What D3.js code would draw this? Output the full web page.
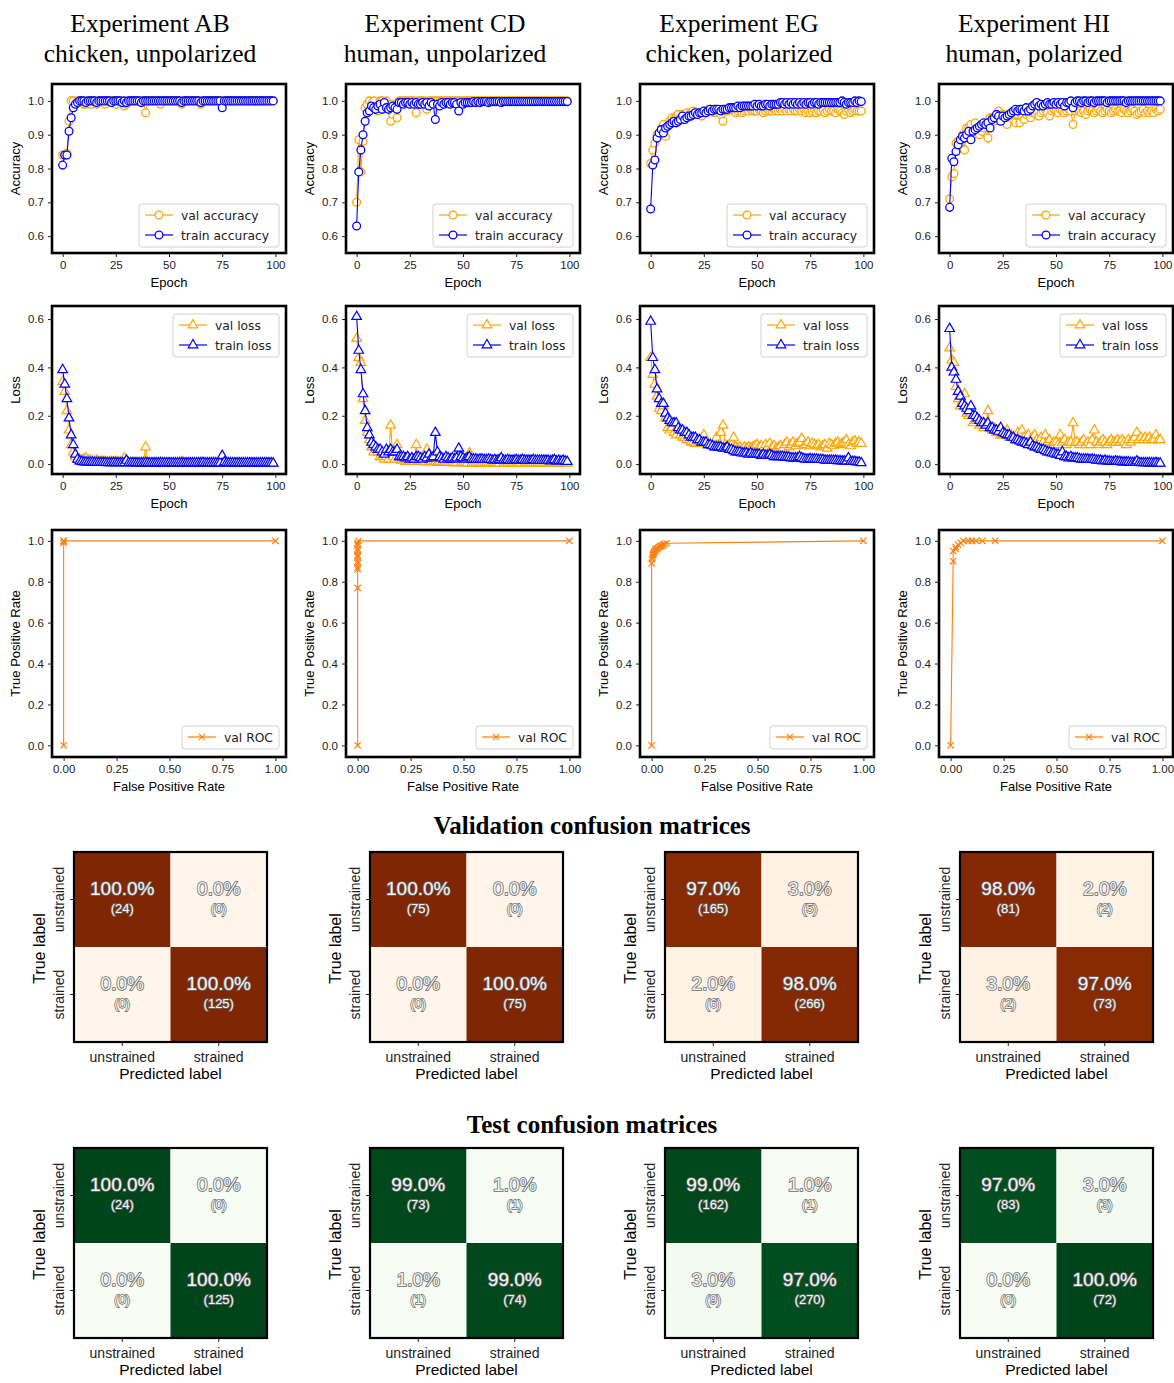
<!DOCTYPE html>
<html>
<head>
<meta charset="utf-8">
<script src="https://cdnjs.cloudflare.com/ajax/libs/d3/7.8.5/d3.min.js"></script>
<style>
  body { margin: 0; background: #fff; }
  svg { display: block; }
</style>
</head>
<body>
<svg id="fig" width="1174" height="1383"></svg>
<script>
// ---------- data ----------
var titles = ["Experiment AB", "Experiment CD", "Experiment EG", "Experiment HI"];
var subtitles = ["chicken, unpolarized", "human, unpolarized", "chicken, polarized", "human, polarized"];

var trainAccAB = [
  0.81,0.84,0.84,0.91,0.95,0.98,0.99,0.995,1,1,
  1,0.995,1,1,1,1,0.995,1,1,1,
  1,1,1,0.995,1,1,1,1,0.995,1,
  0.995,1,1,1,1,1,1,0.995,1,1,
  1,1,1,1,1,1,1,1,1,1,
  1,1,1,1,1,1,0.995,1,1,1,
  1,1,1,1,1,0.995,1,1,1,1,
  1,1,1,1,1,0.98,1,1,1,1,
  1,1,1,1,1,1,1,1,1,1,
  1,1,1,1,1,1,1,1,1,1];
var valAccAB = [
  0.84,0.84,0.845,0.94,1,1,0.99,1,1,1,
  0.99,0.99,1,0.99,1,1,0.99,1,1,1,
  0.99,1,1,1,1,0.99,1,1,1,0.985,
  0.99,1,1,1,1,1,1,1,1,0.965,
  1,1,1,1,1,1,0.99,1,1,1,
  1,1,1,1,1,1,0.99,1,1,1,
  1,1,1,1,1,0.99,1,1,1,1,
  1,1,1,1,1,1,1,1,1,1,
  1,1,1,1,1,1,1,1,1,1,
  1,1,1,1,1,1,1,1,1,1];
var trainLossAB = [
  0.39,0.33,0.27,0.19,0.12,0.08,0.04,0.02,0.012,0.01,
  0.008,0.008,0.007,0.007,0.007,0.006,0.006,0.006,0.006,0.006,
  0.006,0.005,0.005,0.005,0.006,0.005,0.005,0.005,0.005,0.005,
  0.015,0.005,0.005,0.005,0.005,0.004,0.004,0.004,0.004,0.006,
  0.005,0.004,0.004,0.004,0.004,0.004,0.004,0.004,0.004,0.004,
  0.004,0.004,0.004,0.004,0.004,0.004,0.004,0.004,0.004,0.004,
  0.004,0.004,0.004,0.004,0.004,0.004,0.006,0.004,0.004,0.004,
  0.004,0.004,0.004,0.004,0.004,0.035,0.008,0.004,0.004,0.004,
  0.004,0.004,0.004,0.004,0.004,0.004,0.004,0.004,0.004,0.004,
  0.004,0.004,0.004,0.004,0.004,0.004,0.004,0.004,0.004,0.003];
var valLossAB = [
  0.34,0.3,0.22,0.14,0.08,0.05,0.03,0.02,0.02,0.015,
  0.02,0.025,0.015,0.015,0.01,0.01,0.015,0.01,0.01,0.01,
  0.01,0.008,0.008,0.01,0.008,0.01,0.008,0.006,0.008,0.025,
  0.01,0.006,0.005,0.005,0.004,0.004,0.004,0.004,0.004,0.07,
  0.005,0.003,0.003,0.003,0.003,0.003,0.008,0.003,0.002,0.002,
  0.002,0.002,0.002,0.002,0.002,0.002,0.01,0.002,0.002,0.002,
  0.002,0.002,0.002,0.002,0.002,0.006,0.002,0.002,0.002,0.002,
  0.002,0.002,0.002,0.002,0.002,0.01,0.002,0.002,0.002,0.002,
  0.002,0.002,0.002,0.002,0.002,0.002,0.002,0.002,0.002,0.002,
  0.002,0.002,0.002,0.002,0.002,0.002,0.002,0.002,0.002,0.002];

var trainAccCD = [
  0.63,0.79,0.855,0.9,0.94,0.965,0.97,0.985,0.98,0.975,
  0.985,0.99,0.975,0.995,0.98,0.975,0.98,0.985,0.98,0.975,
  0.995,0.995,0.99,0.995,0.995,0.99,0.995,0.99,0.995,0.99,
  0.99,0.995,0.99,0.995,0.985,0.995,0.99,0.945,0.99,0.985,
  0.995,0.99,0.995,0.995,0.99,0.995,0.995,0.99,0.97,0.995,
  0.99,0.995,0.995,0.995,0.995,0.998,0.995,0.998,0.995,0.998,
  0.998,0.998,0.995,0.998,0.998,0.998,0.998,0.998,0.995,0.998,
  0.998,0.998,0.998,0.998,0.998,0.998,0.998,0.998,0.998,0.998,
  0.998,0.998,0.998,0.998,0.998,0.998,0.998,0.998,0.998,0.998,
  0.998,0.998,0.998,0.998,0.998,0.998,0.998,0.998,0.998,0.998];
var valAccCD = [
  0.7,0.885,0.79,0.88,0.98,0.99,1,0.99,1,0.98,
  0.97,1,1,0.99,1,0.99,0.94,0.96,0.99,0.95,
  1,1,1,1,1,1,1,1,0.965,1,
  1,1,1,0.975,1,1,1,1,1,1,
  1,1,1,1,1,1,1,1,1,1,
  1,1,1,1,1,1,1,1,1,1,
  1,1,1,1,1,1,1,1,1,1,
  1,1,1,1,1,1,1,1,1,1,
  1,1,1,1,1,1,1,1,1,1,
  1,1,1,1,1,1,1,1,1,1];
var trainLossCD = [
  0.61,0.47,0.39,0.29,0.22,0.15,0.12,0.09,0.08,0.07,
  0.06,0.06,0.05,0.04,0.06,0.05,0.06,0.05,0.05,0.06,
  0.03,0.03,0.03,0.025,0.03,0.02,0.025,0.02,0.03,0.03,
  0.025,0.02,0.03,0.025,0.04,0.025,0.03,0.13,0.05,0.03,
  0.025,0.02,0.03,0.025,0.02,0.025,0.02,0.025,0.065,0.03,
  0.025,0.02,0.025,0.03,0.02,0.02,0.02,0.018,0.02,0.02,
  0.018,0.018,0.02,0.018,0.015,0.018,0.015,0.018,0.025,0.015,
  0.015,0.018,0.015,0.015,0.015,0.018,0.015,0.015,0.018,0.015,
  0.015,0.015,0.015,0.018,0.015,0.015,0.015,0.015,0.015,0.015,
  0.015,0.012,0.015,0.018,0.012,0.015,0.012,0.015,0.012,0.01];
var valLossCD = [
  0.52,0.44,0.42,0.27,0.18,0.13,0.1,0.07,0.05,0.06,
  0.05,0.03,0.03,0.02,0.03,0.02,0.16,0.03,0.02,0.08,
  0.02,0.015,0.02,0.01,0.015,0.01,0.01,0.01,0.08,0.01,
  0.01,0.01,0.008,0.06,0.01,0.01,0.008,0.01,0.006,0.01,
  0.008,0.006,0.008,0.006,0.005,0.006,0.005,0.005,0.05,0.005,
  0.004,0.005,0.004,0.045,0.004,0.004,0.004,0.004,0.004,0.004,
  0.003,0.003,0.003,0.003,0.003,0.005,0.003,0.003,0.02,0.003,
  0.003,0.003,0.003,0.003,0.003,0.003,0.003,0.003,0.02,0.003,
  0.003,0.003,0.003,0.003,0.003,0.003,0.003,0.003,0.003,0.003,
  0.003,0.003,0.003,0.003,0.003,0.003,0.003,0.003,0.003,0.003];

var trainAccEG = [
  0.68,0.81,0.825,0.89,0.905,0.915,0.905,0.92,0.925,0.93,
  0.935,0.94,0.935,0.94,0.945,0.955,0.945,0.95,0.955,0.955,
  0.96,0.965,0.96,0.965,0.965,0.97,0.965,0.97,0.975,0.97,
  0.975,0.975,0.975,0.97,0.975,0.975,0.975,0.98,0.98,0.98,
  0.98,0.985,0.98,0.985,0.985,0.985,0.985,0.985,0.985,0.99,
  0.985,0.99,0.985,0.985,0.99,0.99,0.985,0.99,0.99,0.99,
  0.99,0.995,0.995,0.99,0.995,0.99,0.995,0.99,0.995,0.99,
  0.995,0.99,0.995,0.99,0.995,0.995,0.99,0.995,0.995,0.99,
  0.995,0.995,0.995,0.995,0.995,0.995,0.995,0.995,0.995,0.995,
  1,0.995,0.99,0.995,0.995,0.995,1,0.995,1,0.998];
var valAccEG = [
  0.815,0.855,0.875,0.9,0.905,0.92,0.93,0.895,0.925,0.94,
  0.95,0.945,0.955,0.96,0.95,0.96,0.955,0.965,0.96,0.965,
  0.97,0.965,0.965,0.96,0.955,0.965,0.97,0.975,0.975,0.975,
  0.965,0.975,0.97,0.96,0.94,0.975,0.97,0.975,0.975,0.97,
  0.965,0.97,0.975,0.965,0.97,0.975,0.97,0.975,0.97,0.97,
  0.97,0.975,0.97,0.965,0.97,0.975,0.97,0.97,0.975,0.97,
  0.97,0.975,0.97,0.975,0.97,0.975,0.97,0.975,0.97,0.97,
  0.975,0.97,0.975,0.965,0.97,0.965,0.97,0.975,0.965,0.97,
  0.97,0.975,0.965,0.97,0.975,0.97,0.97,0.965,0.975,0.97,
  0.965,0.96,0.97,0.975,0.965,0.97,0.975,0.97,0.97,0.97];
var trainLossEG = [
  0.59,0.44,0.39,0.31,0.27,0.25,0.25,0.21,0.19,0.18,
  0.17,0.17,0.17,0.15,0.14,0.14,0.13,0.13,0.12,0.11,
  0.11,0.11,0.1,0.1,0.09,0.09,0.09,0.08,0.08,0.075,
  0.07,0.07,0.07,0.07,0.065,0.065,0.07,0.06,0.06,0.055,
  0.05,0.05,0.05,0.045,0.045,0.045,0.04,0.045,0.04,0.04,
  0.04,0.04,0.035,0.04,0.035,0.035,0.04,0.035,0.03,0.03,
  0.03,0.03,0.03,0.028,0.028,0.028,0.025,0.025,0.025,0.025,
  0.03,0.025,0.022,0.02,0.02,0.022,0.02,0.02,0.02,0.018,
  0.018,0.018,0.015,0.015,0.015,0.015,0.015,0.015,0.013,0.013,
  0.012,0.012,0.012,0.025,0.01,0.01,0.01,0.008,0.008,0.005];
var valLossEG = [
  0.44,0.37,0.33,0.28,0.23,0.22,0.24,0.19,0.15,0.14,
  0.15,0.13,0.12,0.14,0.12,0.11,0.11,0.1,0.1,0.09,
  0.09,0.085,0.085,0.09,0.09,0.12,0.09,0.08,0.08,0.08,
  0.08,0.11,0.08,0.13,0.16,0.08,0.075,0.07,0.08,0.11,
  0.07,0.065,0.07,0.06,0.07,0.065,0.07,0.065,0.07,0.075,
  0.08,0.07,0.075,0.065,0.08,0.07,0.085,0.07,0.075,0.065,
  0.07,0.075,0.065,0.08,0.09,0.07,0.08,0.09,0.075,0.085,
  0.09,0.105,0.075,0.08,0.09,0.075,0.085,0.08,0.075,0.08,
  0.07,0.075,0.08,0.065,0.085,0.08,0.075,0.085,0.09,0.08,
  0.085,0.09,0.1,0.08,0.075,0.09,0.095,0.085,0.09,0.085];

var trainAccHI = [
  0.685,0.83,0.82,0.85,0.87,0.885,0.895,0.89,0.9,0.91,
  0.885,0.91,0.915,0.92,0.925,0.93,0.935,0.93,0.935,0.92,
  0.945,0.95,0.96,0.955,0.94,0.955,0.95,0.955,0.96,0.965,
  0.97,0.975,0.97,0.975,0.975,0.97,0.98,0.97,0.975,0.985,
  0.99,0.995,0.985,0.99,0.985,0.99,0.995,0.99,0.99,0.995,
  0.99,0.995,0.99,0.995,0.985,0.995,0.995,1,0.98,0.995,
  1,1,0.995,1,1,0.995,1,1,0.995,1,
  1,1,1,1,0.995,1,1,1,1,1,
  1,1,1,0.995,1,1,1,1,1,1,
  1,1,1,1,1,1,1,1,1,1];
var valAccHI = [
  0.71,0.775,0.785,0.875,0.88,0.885,0.9,0.855,0.92,0.92,
  0.93,0.9,0.935,0.92,0.9,0.91,0.92,0.93,0.89,0.95,
  0.95,0.94,0.955,0.97,0.945,0.96,0.95,0.93,0.955,0.96,
  0.965,0.935,0.96,0.935,0.955,0.945,0.96,0.965,0.95,0.965,
  0.965,0.97,0.955,0.965,0.97,0.975,0.965,0.955,0.97,0.975,
  0.97,0.965,0.975,0.97,0.965,0.97,0.975,0.97,0.93,0.97,
  0.975,0.97,0.965,0.97,0.96,0.97,0.975,0.97,0.965,0.97,
  0.975,0.97,0.965,0.97,0.975,0.97,0.965,0.97,0.975,0.97,
  0.97,0.965,0.975,0.97,0.965,0.97,0.975,0.97,0.96,0.965,
  0.97,0.975,0.965,0.97,0.965,0.97,0.965,0.975,0.97,0.975];
var trainLossHI = [
  0.56,0.4,0.38,0.35,0.3,0.28,0.25,0.24,0.23,0.22,
  0.24,0.2,0.2,0.19,0.18,0.17,0.17,0.16,0.17,0.15,
  0.15,0.14,0.14,0.135,0.15,0.13,0.125,0.12,0.12,0.11,
  0.11,0.1,0.1,0.095,0.09,0.09,0.085,0.08,0.09,0.075,
  0.07,0.07,0.065,0.06,0.06,0.055,0.05,0.05,0.045,0.045,
  0.04,0.04,0.035,0.05,0.03,0.03,0.025,0.03,0.025,0.025,
  0.025,0.022,0.02,0.02,0.02,0.02,0.018,0.02,0.018,0.015,
  0.015,0.015,0.012,0.015,0.012,0.012,0.01,0.01,0.012,0.01,
  0.01,0.008,0.008,0.008,0.008,0.006,0.006,0.006,0.012,0.006,
  0.005,0.005,0.005,0.005,0.004,0.004,0.004,0.006,0.003,0.003];
var valLossHI = [
  0.48,0.43,0.42,0.32,0.27,0.24,0.26,0.29,0.21,0.2,
  0.21,0.17,0.18,0.18,0.16,0.17,0.15,0.16,0.22,0.15,
  0.14,0.15,0.13,0.14,0.12,0.12,0.13,0.14,0.11,0.12,
  0.11,0.1,0.13,0.12,0.14,0.11,0.1,0.12,0.1,0.11,
  0.12,0.1,0.09,0.11,0.09,0.12,0.09,0.1,0.08,0.09,
  0.09,0.08,0.12,0.09,0.1,0.08,0.09,0.09,0.17,0.09,
  0.09,0.08,0.09,0.1,0.08,0.09,0.08,0.1,0.14,0.09,
  0.08,0.09,0.1,0.09,0.08,0.09,0.1,0.09,0.09,0.1,
  0.09,0.1,0.09,0.08,0.1,0.09,0.1,0.11,0.13,0.1,
  0.11,0.1,0.11,0.1,0.11,0.1,0.1,0.12,0.1,0.1];

var rocFprAB = [0, 0, 0, 0, 1];
var rocTprAB = [0, 0.99, 1, 1, 1];
var rocFprCD = [0, 0, 0, 0, 0, 0, 0, 0, 0, 0, 0, 0, 0.005, 1];
var rocTprCD = [0, 0.77, 0.86, 0.87, 0.89, 0.9, 0.92, 0.93, 0.95, 0.96, 0.98, 0.99, 1, 1];
var rocFprEG = [0, 0, 0.002, 0.004, 0.006, 0.008, 0.01, 0.012, 0.015, 0.018, 0.02, 0.025, 0.03, 0.035, 0.04, 0.045, 0.05, 0.055, 0.06, 0.07, 1];
var rocTprEG = [0, 0.89, 0.91, 0.92, 0.93, 0.935, 0.94, 0.945, 0.95, 0.955, 0.96, 0.962, 0.965, 0.97, 0.972, 0.975, 0.975, 0.98, 0.985, 0.988, 1];
var rocFprHI = [0, 0.012, 0.012, 0.024, 0.024, 0.036, 0.048, 0.06, 0.084, 0.1, 0.12, 0.15, 0.21, 1];
var rocTprHI = [0, 0.9, 0.95, 0.96, 0.97, 0.98, 0.99, 1, 1, 1, 1, 1, 1, 1];

var cmLabels = ["unstrained", "strained"];
var valCmPct = [[[100, 0], [0, 100]], [[100, 0], [0, 100]], [[97, 3], [2, 98]], [[98, 2], [3, 97]]];
var valCmCount = [[[24, 0], [0, 125]], [[75, 0], [0, 75]], [[165, 5], [6, 266]], [[81, 2], [2, 73]]];
var testCmPct = [[[100, 0], [0, 100]], [[99, 1], [1, 99]], [[99, 1], [3, 97]], [[97, 3], [0, 100]]];
var testCmCount = [[[24, 0], [0, 125]], [[73, 1], [1, 74]], [[162, 1], [9, 270]], [[83, 3], [0, 72]]];

var accTicks = [0.6, 0.7, 0.8, 0.9, 1.0];
var lossTicks = [0.0, 0.2, 0.4, 0.6];
var epochTicks = [0, 25, 50, 75, 100];
var rocTicks = [0, 0.2, 0.4, 0.6, 0.8, 1.0];
var fprTicks = [0, 0.25, 0.5, 0.75, 1.0];

var valAcc = [valAccAB, valAccCD, valAccEG, valAccHI];
var trainAcc = [trainAccAB, trainAccCD, trainAccEG, trainAccHI];
var valLoss = [valLossAB, valLossCD, valLossEG, valLossHI];
var trainLoss = [trainLossAB, trainLossCD, trainLossEG, trainLossHI];
var rocFpr = [rocFprAB, rocFprCD, rocFprEG, rocFprHI];
var rocTpr = [rocTprAB, rocTprCD, rocTprEG, rocTprHI];

// ---------- layout ----------
var svg = d3.select("#fig");
var SANS = "'Liberation Sans', Arial, sans-serif";
var DEJAVU = "'DejaVu Sans', sans-serif";
var SERIF = "'Liberation Serif', 'Times New Roman', serif";
var colLeft = [52, 346, 640, 939];
var colMid = [150, 445, 739, 1034];
var cmLeft = [74, 370, 665, 960];
var plotW = 234;
var valColor = "#ffa500", trainColor = "#0000ff", rocColor = "#ff7f0e";

// column titles
titles.forEach(function(t, i) {
  svg.append("text").attr("x", colMid[i]).attr("y", 32)
    .attr("text-anchor", "middle").attr("font-family", SERIF).attr("font-size", 25.5).text(t);
  svg.append("text").attr("x", colMid[i]).attr("y", 62)
    .attr("text-anchor", "middle").attr("font-family", SERIF).attr("font-size", 25.5).text(subtitles[i]);
});

function styleAxis(g) {
  g.selectAll("text").attr("font-family", SANS).attr("font-size", 11.5).attr("fill", "#222");
  g.selectAll("line").attr("stroke", "#222");
  g.select(".domain").remove();
}

function panel(opts) {
  var g = svg.append("g").attr("transform", "translate(" + opts.left + "," + opts.top + ")");
  var x = d3.scaleLinear().domain(opts.xDomain).range([0, plotW]);
  var y = d3.scaleLinear().domain(opts.yDomain).range([opts.h, 0]);

  g.append("g").attr("transform", "translate(0," + opts.h + ")")
    .call(d3.axisBottom(x).tickValues(opts.xTicks).tickSize(4).tickPadding(4).tickFormat(opts.xFormat))
    .call(styleAxis);
  g.append("g")
    .call(d3.axisLeft(y).tickValues(opts.yTicks).tickSize(4).tickPadding(4).tickFormat(d3.format(".1f")))
    .call(styleAxis);

  g.append("text").attr("x", plotW / 2).attr("y", opts.h + 34).attr("text-anchor", "middle")
    .attr("font-family", SANS).attr("font-size", 13).text(opts.xLabel);
  g.append("text").attr("transform", "translate(-32," + (opts.h / 2) + ") rotate(-90)")
    .attr("text-anchor", "middle").attr("font-family", SANS).attr("font-size", 13).text(opts.yLabel);

  var marks = g.append("g");
  opts.series.forEach(function(s) {
    var pts = s.xs.map(function(xv, i) { return [xv, s.ys[i]]; });
    marks.append("path").datum(pts)
      .attr("d", d3.line().x(function(d) { return x(d[0]); }).y(function(d) { return y(d[1]); }))
      .attr("fill", "none").attr("stroke", s.color).attr("stroke-width", 1.1);
    drawMarkers(marks, pts.map(function(d) { return [x(d[0]), y(d[1])]; }), s.marker, s.color);
  });

  g.append("rect").attr("width", plotW).attr("height", opts.h)
    .attr("fill", "none").attr("stroke", "#000").attr("stroke-width", 2.6);

  // legend
  var L = opts.legend;
  var lg = g.append("g").attr("transform", "translate(" + L.x + "," + L.y + ")");
  lg.append("rect").attr("width", L.w).attr("height", L.h).attr("rx", 3)
    .attr("fill", "#fff").attr("fill-opacity", 0.85).attr("stroke", "#d0d0d0");
  opts.series.forEach(function(s, i) {
    var yy = 11 + i * 20;
    lg.append("line").attr("x1", 6).attr("x2", 34).attr("y1", yy).attr("y2", yy)
      .attr("stroke", s.color).attr("stroke-width", 1.2);
    drawMarkers(lg, [[20, yy]], s.marker, s.color);
    lg.append("text").attr("x", 42).attr("y", yy + 4.5)
      .attr("font-family", DEJAVU).attr("font-size", 12.3).attr("fill", "#222").text(s.label);
  });
}

function drawMarkers(g, pts, marker, color) {
  if (marker === "circle") {
    g.selectAll(null).data(pts).enter().append("circle")
      .attr("cx", function(d) { return d[0]; }).attr("cy", function(d) { return d[1]; })
      .attr("r", 3.9).attr("fill", "#fff").attr("stroke", color).attr("stroke-width", 1.3);
  } else {
    var sym = d3.symbol().type(marker === "triangle" ? d3.symbolTriangle : d3.symbolX).size(marker === "triangle" ? 40 : 28);
    g.selectAll(null).data(pts).enter().append("path")
      .attr("transform", function(d) { return "translate(" + d[0] + "," + d[1] + ")"; })
      .attr("d", sym())
      .attr("fill", marker === "triangle" ? "#fff" : "none")
      .attr("stroke", color).attr("stroke-width", 1.2);
  }
}

var epochs = valAccAB.map(function(d, i) { return i; });

for (var c = 0; c < 4; c++) {
  panel({
    left: colLeft[c], top: 84, h: 169,
    xDomain: [-5, 105], yDomain: [0.55, 1.05], xTicks: epochTicks, yTicks: accTicks,
    xFormat: d3.format("d"), xLabel: "Epoch", yLabel: "Accuracy",
    series: [
      { xs: epochs, ys: valAcc[c], color: valColor, marker: "circle", label: "val accuracy" },
      { xs: epochs, ys: trainAcc[c], color: trainColor, marker: "circle", label: "train accuracy" }
    ],
    legend: { x: plotW - 147, y: 120, w: 140, h: 43 }
  });
  panel({
    left: colLeft[c], top: 306, h: 168,
    xDomain: [-5, 105], yDomain: [-0.041, 0.654], xTicks: epochTicks, yTicks: lossTicks,
    xFormat: d3.format("d"), xLabel: "Epoch", yLabel: "Loss",
    series: [
      { xs: epochs, ys: valLoss[c], color: valColor, marker: "triangle", label: "val loss" },
      { xs: epochs, ys: trainLoss[c], color: trainColor, marker: "triangle", label: "train loss" }
    ],
    legend: { x: plotW - 113, y: 8, w: 106, h: 43 }
  });
  panel({
    left: colLeft[c], top: 530, h: 227,
    xDomain: [-0.055, 1.05], yDomain: [-0.057, 1.053], xTicks: fprTicks, yTicks: rocTicks,
    xFormat: d3.format(".2f"), xLabel: "False Positive Rate", yLabel: "True Positive Rate",
    series: [
      { xs: rocFpr[c], ys: rocTpr[c], color: rocColor, marker: "x", label: "val ROC" }
    ],
    legend: { x: plotW - 104, y: 196, w: 97, h: 23 }
  });
}

// ---------- confusion matrices ----------
svg.append("text").attr("x", 592).attr("y", 834).attr("text-anchor", "middle")
  .attr("font-family", SERIF).attr("font-weight", "bold").attr("font-size", 25)
  .text("Validation confusion matrices");
svg.append("text").attr("x", 592).attr("y", 1133).attr("text-anchor", "middle")
  .attr("font-family", SERIF).attr("font-weight", "bold").attr("font-size", 25)
  .text("Test confusion matrices");

function confusion(left, top, pct, cnt, interp) {
  var size = 193;
  var g = svg.append("g").attr("transform", "translate(" + left + "," + top + ")");
  var x = d3.scaleBand().domain(cmLabels).range([0, size]);
  var y = d3.scaleBand().domain(cmLabels).range([0, size - 3]);
  var color = d3.scaleSequential(interp).domain([0, 100]);
  var cells = [];
  cmLabels.forEach(function(r, ri) {
    cmLabels.forEach(function(p, pi) {
      cells.push({ r: r, p: p, v: pct[ri][pi], n: cnt[ri][pi] });
    });
  });
  g.selectAll("rect.cell").data(cells).enter().append("rect")
    .attr("x", function(d) { return x(d.p); }).attr("y", function(d) { return y(d.r); })
    .attr("width", x.bandwidth()).attr("height", y.bandwidth())
    .attr("fill", function(d) { return color(d.v); });
  var txt = g.selectAll("g.lab").data(cells).enter().append("g")
    .attr("transform", function(d) {
      return "translate(" + (x(d.p) + x.bandwidth() / 2) + "," + (y(d.r) + y.bandwidth() / 2) + ")";
    });
  txt.append("text").attr("y", -5).attr("text-anchor", "middle")
    .attr("font-family", SANS).attr("font-size", 19)
    .attr("fill", "#f4f4f4").attr("stroke", "#6b6b6b").attr("stroke-width", 1.6)
    .attr("paint-order", "stroke").text(function(d) { return d.v.toFixed(1) + "%"; });
  txt.append("text").attr("y", 13).attr("text-anchor", "middle")
    .attr("font-family", SANS).attr("font-size", 13)
    .attr("fill", "#f4f4f4").attr("stroke", "#6b6b6b").attr("stroke-width", 1.4)
    .attr("paint-order", "stroke").text(function(d) { return "(" + d.n + ")"; });

  g.append("rect").attr("width", size).attr("height", size - 3)
    .attr("fill", "none").attr("stroke", "#000").attr("stroke-width", 2.2);

  g.append("g").attr("transform", "translate(0," + (size - 3) + ")")
    .call(d3.axisBottom(x).tickSize(4).tickPadding(6)).call(styleAxis)
    .selectAll("text").attr("font-size", 14);
  var ya = g.append("g").call(d3.axisLeft(y).tickSize(4)).call(styleAxis);
  ya.selectAll("text").attr("font-size", 14).attr("text-anchor", "middle")
    .attr("x", 0).attr("dy", 0).attr("transform", "translate(-10,0) rotate(-90)");
  g.append("text").attr("x", size / 2).attr("y", size + 34).attr("text-anchor", "middle")
    .attr("font-family", SANS).attr("font-size", 15.5).text("Predicted label");
  g.append("text").attr("transform", "translate(-29," + (size / 2) + ") rotate(-90)")
    .attr("text-anchor", "middle").attr("font-family", SANS).attr("font-size", 16).text("True label");
}

for (var k = 0; k < 4; k++) {
  confusion(cmLeft[k], 852, valCmPct[k], valCmCount[k], d3.interpolateOranges);
  confusion(cmLeft[k], 1148, testCmPct[k], testCmCount[k], d3.interpolateGreens);
}
</script>
</body>
</html>
